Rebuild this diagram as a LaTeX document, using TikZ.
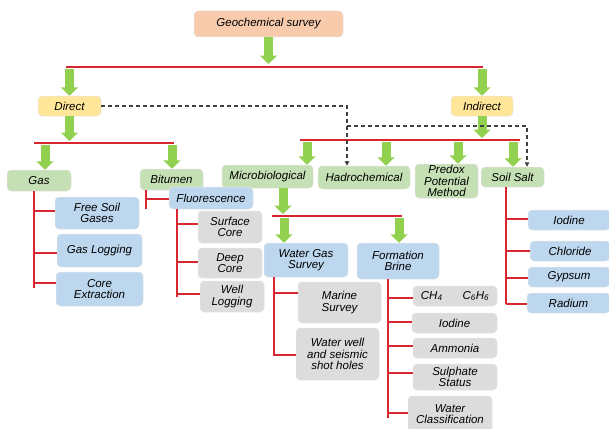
\documentclass[tikz,border=0pt]{standalone}
\usepackage{fontspec}
\setmainfont{Liberation Sans}
\usetikzlibrary{arrows.meta}
\definecolor{salmon}{HTML}{F8CBAD}
\definecolor{ylw}{HTML}{FFE699}
\definecolor{grn}{HTML}{C5E0B4}
\definecolor{blu}{HTML}{BDD7EE}
\definecolor{gry}{HTML}{DCDCDC}
\definecolor{agreen}{HTML}{92D050}
\definecolor{redl}{HTML}{D9262E}
\definecolor{dashc}{HTML}{404040}
\begin{document}
\begin{tikzpicture}[x=1pt,y=-1pt,
  box/.style={rounded corners=4pt, inner sep=0pt, align=center,
    font=\fontsize{11.5}{11.5}\selectfont\itshape, draw=black!10, line width=0.5pt},
  salbox/.style={box, fill=salmon},
  ylwbox/.style={box, fill=ylw},
  grnbox/.style={box, fill=grn},
  blubox/.style={box, fill=blu},
  grybox/.style={box, fill=gry},
  garrow/.style={draw=agreen, line width=9pt, -{Triangle[width=17pt,length=8.5pt]}},
  redline/.style={draw=redl, line width=1.3pt},
  dashline/.style={draw=dashc, line width=1.2pt, dash pattern=on 4pt off 3pt, -{Triangle[width=4.5pt,length=4.5pt]}},
  dashplain/.style={draw=dashc, line width=1.2pt, dash pattern=on 4pt off 3pt}
]
\clip (0,0) rectangle (609,428);
\useasboundingbox (0,0) rectangle (609,428);

% ---------- nodes ----------
\node[salbox, minimum width=149pt, minimum height=26pt] (geo) at (268.5,24) {Geochemical survey};
\node[ylwbox, minimum width=63pt, minimum height=20pt] (direct) at (69.5,106) {Direct};
\node[ylwbox, minimum width=62pt, minimum height=20pt] (indirect) at (482,106) {Indirect};

\node[grnbox, minimum width=64pt, minimum height=21pt] (gas) at (39,180.5) {Gas};
\node[grnbox, minimum width=63pt, minimum height=21pt] (bitumen) at (171.5,179.5) {Bitumen};
\node[grnbox, minimum width=91pt, minimum height=23pt] (micro) at (267.5,176.5) {Microbiological};
\node[grnbox, minimum width=92pt, minimum height=23pt] (hadro) at (364,177.5) {Hadrochemical};
\node[grnbox, minimum width=63pt, minimum height=34pt] (predox) at (446.5,181) {Predox\\Potential\\Method};
\node[grnbox, minimum width=63pt, minimum height=20pt] (soil) at (512.5,177) {Soil Salt};

\node[blubox, minimum width=84pt, minimum height=32pt] (freesoil) at (97,213) {Free Soil\\Gases};
\node[blubox, minimum width=85pt, minimum height=33pt] (gaslog) at (99.5,250.5) {Gas Logging};
\node[blubox, minimum width=87pt, minimum height=34pt] (coreext) at (99.5,289) {Core\\Extraction};

\node[blubox, minimum width=84pt, minimum height=22pt] (fluor) at (211,198) {Fluorescence};
\node[grybox, minimum width=64pt, minimum height=32pt] (surface) at (230,227) {Surface\\Core};
\node[grybox, minimum width=64pt, minimum height=30pt] (deep) at (230,263) {Deep\\Core};
\node[grybox, minimum width=64pt, minimum height=31pt] (welllog) at (232,296.5) {Well\\Logging};

\node[blubox, minimum width=84pt, minimum height=34pt] (watergas) at (306,260) {Water Gas\\Survey};
\node[blubox, minimum width=82pt, minimum height=36pt] (fbrine) at (398,261) {Formation\\Brine};
\node[grybox, minimum width=83pt, minimum height=41pt] (marine) at (339.5,302.5) {Marine\\Survey};
\node[grybox, minimum width=83pt, minimum height=52pt] (waterwell) at (337.5,354) {Water well\\and seismic\\shot holes};

\node[grybox, minimum width=84pt, minimum height=20pt] (ch) at (455,296) {CH\textsubscript{4}\hspace{20pt}C\textsubscript{6}H\textsubscript{6}};
\node[grybox, minimum width=85pt, minimum height=20pt] (iodineb) at (454.5,323) {Iodine};
\node[grybox, minimum width=84pt, minimum height=20pt] (ammonia) at (455,348) {Ammonia};
\node[grybox, minimum width=84pt, minimum height=26pt] (sulphate) at (455,377) {Sulphate\\Status};
\node[grybox, minimum width=84pt, minimum height=36pt] (waterclass) at (450,414) {Water\\Classification};

\node[blubox, minimum width=82pt, minimum height=20pt] (iodines) at (569,220) {Iodine};
\node[blubox, minimum width=80pt, minimum height=20pt] (chloride) at (570,251) {Chloride};
\node[blubox, minimum width=82pt, minimum height=20pt] (gypsum) at (569,277) {Gypsum};
\node[blubox, minimum width=83pt, minimum height=20pt] (radium) at (568.5,303) {Radium};

% ---------- buses ----------
\coordinate (busA-l) at (66,67);   \coordinate (busA-r) at (483,67);
\coordinate (busB-l) at (34,143);  \coordinate (busB-r) at (174,143);
\coordinate (busC-l) at (300,140); \coordinate (busC-r) at (520,140);
\coordinate (busD-l) at (272,216); \coordinate (busD-r) at (402,216);
\draw[redline] (busA-l) -- (busA-r);
\draw[redline] (busB-l) -- (busB-r);
\draw[redline] (busC-l) -- (busC-r);
\draw[redline] (busD-l) -- (busD-r);

% ---------- green arrows ----------
\coordinate (geoEnd) at (268.5,64);
\draw[garrow] (geo.south) -- (geoEnd);
\coordinate (aDir) at (69.5,69);   \draw[garrow] (aDir) -- (direct.north);
\coordinate (aInd) at (482,69);    \draw[garrow] (aInd) -- (indirect.north);
\coordinate (dirEnd) at (69.5,141); \draw[garrow] (direct.south) -- (dirEnd);
\coordinate (indEnd) at (482,138);  \draw[garrow] (indirect.south) -- (indEnd);
\coordinate (aGas) at (45,145);     \draw[garrow] (aGas) -- (aGas |- gas.north);
\coordinate (aBit) at (172,145);    \draw[garrow] (aBit) -- (aBit |- bitumen.north);
\coordinate (aMic) at (307,142);    \draw[garrow] (aMic) -- (aMic |- micro.north);
\coordinate (aHad) at (386,142);    \draw[garrow] (aHad) -- (aHad |- hadro.north);
\coordinate (aPre) at (458,142);    \draw[garrow] (aPre) -- (aPre |- predox.north);
\coordinate (aSoi) at (513,142);    \draw[garrow] (aSoi) -- (aSoi |- soil.north);
\coordinate (micEnd) at (283,214);  \draw[garrow] (micro.south -| micEnd) -- (micEnd);
\coordinate (aWG) at (284,218);     \draw[garrow] (aWG) -- (aWG |- watergas.north);
\coordinate (aFB) at (399,218);     \draw[garrow] (aFB) -- (aFB |- fbrine.north);

% ---------- dashed links ----------
\coordinate (dA) at (347,106);
\coordinate (dB) at (347,126);
\coordinate (dC) at (527,126);
\draw[dashline] (direct.east) -- (dA) -- (dA |- hadro.north);
\draw[dashline] (dB) -- (dC) -- (dC |- soil.north);

% ---------- red trees ----------
% Gas
\coordinate (gv) at (34,288);
\draw[redline] (gas.south -| gv) -- (gv);
\coordinate (g1) at (34,211); \draw[redline] (g1) -- (g1 -| freesoil.west);
\coordinate (g2) at (34,253); \draw[redline] (g2) -- (g2 -| gaslog.west);
\coordinate (g3) at (34,283); \draw[redline] (g3) -- (g3 -| coreext.west);
% Bitumen
\coordinate (bv) at (146,209);
\draw[redline] (bitumen.south -| bv) -- (bv);
\coordinate (b1) at (146,199); \draw[redline] (b1) -- (b1 -| fluor.west);
% Fluorescence
\coordinate (fv) at (177,297);
\draw[redline] (fluor.south -| fv) -- (fv);
\coordinate (f1) at (177,224); \draw[redline] (f1) -- (f1 -| surface.west);
\coordinate (f2) at (177,262); \draw[redline] (f2) -- (f2 -| deep.west);
\coordinate (f3) at (177,294); \draw[redline] (f3) -- (f3 -| welllog.west);
% Water gas survey
\coordinate (wv) at (274,356);
\draw[redline] (watergas.south -| wv) -- (wv);
\coordinate (w1) at (274,293); \draw[redline] (w1) -- (w1 -| marine.west);
\coordinate (w2) at (274,355); \draw[redline] (w2) -- (w2 -| waterwell.west);
% Formation brine
\coordinate (rv) at (388,418);
\draw[redline] (fbrine.south -| rv) -- (rv);
\coordinate (r1) at (388,298); \draw[redline] (r1) -- (r1 -| ch.west);
\coordinate (r2) at (388,322); \draw[redline] (r2) -- (r2 -| iodineb.west);
\coordinate (r3) at (388,346); \draw[redline] (r3) -- (r3 -| ammonia.west);
\coordinate (r4) at (388,373); \draw[redline] (r4) -- (r4 -| sulphate.west);
\coordinate (r5) at (388,413); \draw[redline] (r5) -- (r5 -| waterclass.west);
% Soil salt
\coordinate (sv) at (506,304);
\draw[redline] (soil.south -| sv) -- (sv);
\coordinate (s1) at (506,219); \draw[redline] (s1) -- (s1 -| iodines.west);
\coordinate (s2) at (506,251); \draw[redline] (s2) -- (s2 -| chloride.west);
\coordinate (s3) at (506,278); \draw[redline] (s3) -- (s3 -| gypsum.west);
\coordinate (s4) at (506,304); \draw[redline] (s4) -- (s4 -| radium.west);
\end{tikzpicture}
\end{document}
